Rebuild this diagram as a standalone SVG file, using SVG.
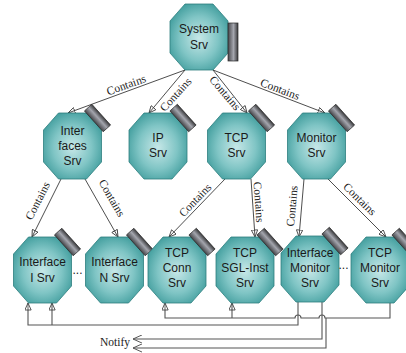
<svg xmlns="http://www.w3.org/2000/svg" xmlns:xlink="http://www.w3.org/1999/xlink" width="406" height="353" viewBox="0 0 406 353">
<style>
.oct{fill:url(#octFill);stroke:#2d7f7f;stroke-width:0.8}
.tab{fill:url(#tabFill);stroke:#2a2a2a;stroke-width:0.7}
.nt{font-family:"Liberation Sans",Arial,sans-serif;font-size:12px;fill:#1a1a1a;text-anchor:middle}
.cl{font-family:"Liberation Serif","Times New Roman",serif;font-size:11.5px;fill:#222;text-anchor:middle}
.ln{fill:none;stroke:#3a3a3a;stroke-width:0.9}
.ar{marker-end:url(#tri)}
.bl{fill:none;stroke:#555;stroke-width:1.1}
.nf{marker-end:url(#chev)}
</style>
<defs>
<radialGradient id="octFill" cx="50%" cy="52%" r="60%">
<stop offset="0" stop-color="#c6e7e7"/>
<stop offset="0.55" stop-color="#80c5c5"/>
<stop offset="1" stop-color="#3a9999"/>
</radialGradient>
<linearGradient id="tabFill" x1="0" y1="0" x2="0" y2="1">
<stop offset="0" stop-color="#3a3a3c"/>
<stop offset="0.45" stop-color="#a4a6ae"/>
<stop offset="1" stop-color="#46464a"/>
</linearGradient>
<path id="octShape" d="M-14,-33H14L29,-16V16L14,33H-14L-29,16V-16Z"/>
<marker id="tri" viewBox="0 0 10 10" refX="10" refY="5" markerWidth="8" markerHeight="7" markerUnits="userSpaceOnUse" orient="auto">
<path d="M0,0.5L10,5L0,9.5Z" fill="none" stroke="#3a3a3a" stroke-width="1.2"/>
</marker>
<marker id="chev" viewBox="0 0 10 10" refX="10" refY="5" markerWidth="9" markerHeight="9" markerUnits="userSpaceOnUse" orient="auto">
<path d="M0,0.5L10,5L0,9.5" fill="none" stroke="#555" stroke-width="1.1"/>
</marker>
</defs>
<g id="connectors">
<path class="ln ar" d="M185,70L68,113"/>
<path class="ln ar" d="M185,70L149,113"/>
<path class="ln ar" d="M213,70L247,113"/>
<path class="ln ar" d="M213,70L325,113"/>
<path class="ln ar" d="M61,179L32,237"/>
<path class="ln ar" d="M85,179L118,237"/>
<path class="ln ar" d="M225,179L169,237"/>
<path class="ln ar" d="M251,179L255,237"/>
<path class="ln ar" d="M304,179L299,237"/>
<path class="ln ar" d="M328,179L386,237"/>
<text class="cl" transform="translate(127.5,88.5) rotate(-19.7)">Contains</text>
<text class="cl" transform="translate(178.5,97) rotate(-47.9)">Contains</text>
<text class="cl" transform="translate(222,95.5) rotate(49.5)">Contains</text>
<text class="cl" transform="translate(278.7,92.8) rotate(20.8)">Contains</text>
<text class="cl" transform="translate(41,202.5) rotate(-63)">Contains</text>
<text class="cl" transform="translate(108.6,200) rotate(60)">Contains</text>
<text class="cl" transform="translate(197.9,202.7) rotate(-46)">Contains</text>
<text class="cl" transform="translate(255,202.3) rotate(86)">Contains</text>
<text class="cl" transform="translate(295.9,206.3) rotate(-85)">Contains</text>
<text class="cl" transform="translate(357.1,201.8) rotate(44.5)">Contains</text>
<path class="bl" d="M390,302V318H325A3,3 0 0 0 319,318H301A3,3 0 0 0 295,318H165V310"/>
<path class="ln ar" d="M165,310V303" style="stroke:#555"/>
<path class="bl ar" d="M232,318V303"/>
<path class="bl" d="M298,302V325H28V310"/>
<path class="ln ar" d="M28,310V303" style="stroke:#555"/>
<path class="bl ar" d="M52,325V303"/>
<path class="bl nf" d="M322,302V339H133"/>
<path class="bl nf" d="M326,318V348H133"/>
<text x="130" y="345.5" style="font-family:'Liberation Serif','Times New Roman',serif;font-size:11.5px;fill:#222;text-anchor:end">Notify</text>
</g>
<g id="n-system" transform="translate(199,37)">
<use href="#octShape" class="oct"/>
<rect class="tab" x="-19" y="-5" width="38" height="10" transform="translate(34,5) rotate(90)"/>
<text class="nt" y="-4">System</text><text class="nt" y="12">Srv</text>
</g>
<g id="n-interfaces" transform="translate(72.5,146)">
<use href="#octShape" class="oct"/>
<rect class="tab" x="-14" y="-5" width="28" height="10" transform="translate(25,-28) rotate(48)"/>
<text class="nt" y="-11">Inter</text><text class="nt" y="4">faces</text><text class="nt" y="19">Srv</text>
</g>
<g id="n-ip" transform="translate(158,146)">
<use href="#octShape" class="oct"/>
<rect class="tab" x="-14" y="-5" width="28" height="10" transform="translate(25,-28) rotate(48)"/>
<text class="nt" y="-4">IP</text><text class="nt" y="11">Srv</text>
</g>
<g id="n-tcp" transform="translate(236.5,146)">
<use href="#octShape" class="oct"/>
<rect class="tab" x="-14" y="-5" width="28" height="10" transform="translate(25,-28) rotate(48)"/>
<text class="nt" y="-4">TCP</text><text class="nt" y="11">Srv</text>
</g>
<g id="n-monitor" transform="translate(316.5,146)">
<use href="#octShape" class="oct"/>
<rect class="tab" x="-14" y="-5" width="28" height="10" transform="translate(25,-28) rotate(48)"/>
<text class="nt" y="-4">Monitor</text><text class="nt" y="11">Srv</text>
</g>
<g id="n-interface-i" transform="translate(42.5,270)">
<use href="#octShape" class="oct"/>
<rect class="tab" x="-14" y="-5" width="28" height="10" transform="translate(25,-28) rotate(48)"/>
<text class="nt" y="-4">Interface</text><text class="nt" y="12">I Srv</text>
</g>
<g id="n-interface-n" transform="translate(114.5,270)">
<use href="#octShape" class="oct"/>
<rect class="tab" x="-14" y="-5" width="28" height="10" transform="translate(25,-28) rotate(48)"/>
<text class="nt" y="-4">Interface</text><text class="nt" y="12">N Srv</text>
</g>
<g id="n-tcp-conn" transform="translate(177,270)">
<use href="#octShape" class="oct"/>
<rect class="tab" x="-14" y="-5" width="28" height="10" transform="translate(25,-28) rotate(48)"/>
<text class="nt" y="-13">TCP</text><text class="nt" y="2">Conn</text><text class="nt" y="17">Srv</text>
</g>
<g id="n-tcp-sgl" transform="translate(245,270)">
<use href="#octShape" class="oct"/>
<rect class="tab" x="-14" y="-5" width="28" height="10" transform="translate(25,-28) rotate(48)"/>
<text class="nt" y="-13">TCP</text><text class="nt" y="2">SGL-Inst</text><text class="nt" y="17">Srv</text>
</g>
<g id="n-interface-monitor" transform="translate(310,269)">
<use href="#octShape" class="oct"/>
<rect class="tab" x="-14" y="-5" width="28" height="10" transform="translate(25,-28) rotate(48)"/>
<text class="nt" y="-12">Interface</text><text class="nt" y="3">Monitor</text><text class="nt" y="18">Srv</text>
</g>
<g id="n-tcp-monitor" transform="translate(380,270)">
<use href="#octShape" class="oct"/>
<rect class="tab" x="-14" y="-5" width="28" height="10" transform="translate(25,-28) rotate(48)"/>
<text class="nt" y="-13">TCP</text><text class="nt" y="2">Monitor</text><text class="nt" y="17">Srv</text>
</g>
<text class="nt" x="77.5" y="274">...</text>
<text class="nt" x="343.5" y="269">...</text>
</svg>
